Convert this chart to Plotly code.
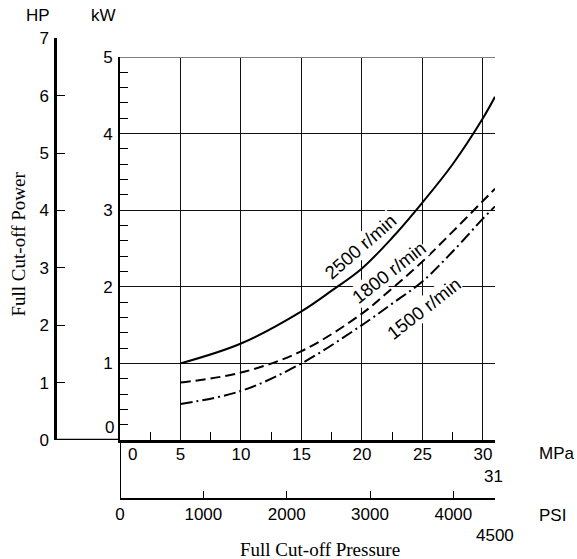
import plotly.graph_objects as go

# ---------------- data ----------------
mpa_2500 = [5, 10, 15, 17.5, 20, 22.5, 25, 27.5, 30, 31]
kw_2500 = [1.00, 1.26, 1.68, 1.95, 2.24, 2.64, 3.10, 3.60, 4.20, 4.48]

mpa_1800 = [5, 10, 15, 20, 22.5, 25, 27.5, 30, 31]
kw_1800 = [0.75, 0.88, 1.16, 1.65, 1.98, 2.33, 2.72, 3.12, 3.28]

mpa_1500 = [5, 10, 15, 20, 22.5, 25, 27.5, 30, 31]
kw_1500 = [0.47, 0.64, 1.00, 1.50, 1.78, 2.07, 2.46, 2.89, 3.05]

mpa_grid = [5, 10, 15, 20, 25, 30, 31]
mpa_ticktext = ["5", "10", "15", "20", "25", "30", ""]
mpa_minor = [2.5, 7.5, 12.5, 17.5, 22.5, 27.5]
kw_ticks = [1, 2, 3, 4, 5]
kw_minor = [v / 10 for v in range(2, 50, 2) if v % 10 != 0]
hp_ticks = [0, 1, 2, 3, 4, 5, 6, 7]
psi_ticks = [0, 1000, 2000, 3000, 4000, 4500]
psi_ticktext = ["0", "1000", "2000", "3000", "4000", ""]

curve_labels = ["2500 r/min", "1800 r/min", "1500 r/min"]
label_mpa = [19.9, 22.2, 25.1]
label_kw = [2.52, 2.19, 1.72]
label_angle = [-41, -38, -38]

# ---------------- layout geometry (window pixels) ----------------
W, H = 577, 559
px_x0, px_x1 = 120, 495              # MPa 0 .. 31
px_kw0, px_kw5 = 440, 57             # kW 0 .. 5
px_hp7 = 38.2
px_hpaxis = 57
px_psi = 499

def fx(p):
    return p / W

def fy(p):
    return (H - p) / H

SANS = "Liberation Sans, Arial, sans-serif"
SERIF = "Liberation Serif, Times New Roman, serif"
FS = 17
GRID = "#111111"

fig = go.Figure()

fig.add_trace(go.Scatter(x=mpa_2500, y=kw_2500, mode="lines",
                         line=dict(color="black", width=2, shape="spline"),
                         hoverinfo="skip"))
fig.add_trace(go.Scatter(x=mpa_1800, y=kw_1800, mode="lines",
                         line=dict(color="black", width=2, shape="spline", dash="10px,5px"),
                         hoverinfo="skip"))
fig.add_trace(go.Scatter(x=mpa_1500, y=kw_1500, mode="lines",
                         line=dict(color="black", width=2, shape="spline", dash="12px,4px,2px,4px"),
                         hoverinfo="skip"))
# carriers for the secondary axes
fig.add_trace(go.Scatter(x=[None], y=[None], xaxis="x2", yaxis="y", hoverinfo="skip"))
fig.add_trace(go.Scatter(x=[None], y=[None], xaxis="x3", yaxis="y2", hoverinfo="skip"))

fig.update_layout(
    template="none",
    width=W, height=H,
    margin=dict(l=0, r=0, t=0, b=0, autoexpand=False),
    paper_bgcolor="white", plot_bgcolor="white",
    showlegend=False,
    font=dict(family=SANS, size=FS, color="black"),
    xaxis=dict(
        domain=[fx(px_x0), fx(px_x1)], range=[0, 31], anchor="y", automargin=False,
        showline=True, linecolor="black", linewidth=2.5,
        tickmode="array", tickvals=mpa_grid, ticktext=mpa_ticktext,
        ticks="", showgrid=True, gridcolor=GRID, gridwidth=1, zeroline=False,
        minor=dict(tickmode="array", tickvals=mpa_minor, ticks="inside",
                   ticklen=8, tickwidth=1.2, tickcolor="black", showgrid=False),
        tickfont=dict(family=SANS, size=FS), ticklabelstandoff=-3,
    ),
    yaxis=dict(
        domain=[fy(px_kw0), fy(px_kw5)], range=[0, 5], anchor="x", automargin=False,
        showline=True, linecolor="black", linewidth=2,
        tickmode="array", tickvals=kw_ticks,
        ticks="", showgrid=True, gridcolor=GRID, gridwidth=1, zeroline=False,
        minor=dict(tickmode="array", tickvals=kw_minor, ticks="inside",
                   ticklen=8, tickwidth=1.2, tickcolor="black", showgrid=False),
        tickfont=dict(family=SANS, size=FS), ticklabelstandoff=2,
    ),
    xaxis2=dict(
        overlaying="x", anchor="free", position=fy(px_psi), side="bottom", automargin=False,
        range=[0, 4500], showline=True, linecolor="black", linewidth=2,
        tickmode="array", tickvals=psi_ticks, ticktext=psi_ticktext,
        ticks="inside", ticklen=7, tickwidth=1.2, tickcolor="black",
        showgrid=False, zeroline=False,
        tickfont=dict(family=SANS, size=FS), ticklabelstandoff=0,
    ),
    xaxis3=dict(domain=[fx(px_hpaxis), fx(px_x0)], range=[0, 1], visible=False,
                automargin=False),
    yaxis2=dict(
        domain=[fy(px_kw0), fy(px_hp7)], range=[0, 7], anchor="x3", side="left",
        automargin=False,
        showline=True, linecolor="black", linewidth=2.5,
        tickmode="array", tickvals=hp_ticks,
        ticks="inside", ticklen=8, tickwidth=1.2, tickcolor="black",
        showgrid=False, zeroline=False,
        tickfont=dict(family=SANS, size=FS), ticklabelstandoff=2,
    ),
)

# axis extensions and top border
fig.add_shape(type="line", xref="paper", yref="y", x0=fx(px_hpaxis), x1=fx(px_x0), y0=0, y1=0,
              line=dict(color="black", width=2.5))
fig.add_shape(type="line", xref="x", yref="paper", x0=0, x1=0, y0=fy(px_psi), y1=fy(px_kw0),
              line=dict(color="black", width=2))
fig.add_shape(type="line", xref="x", yref="y", x0=0, x1=31, y0=5, y1=5,
              line=dict(color="#808080", width=2))

# curve labels
for t, xm, yk, a in zip(curve_labels, label_mpa, label_kw, label_angle):
    fig.add_annotation(x=xm, y=yk, xref="x", yref="y", text=t, showarrow=False,
                       textangle=a, bgcolor="white", borderpad=0,
                       font=dict(family=SANS, size=18.5))

# special tick labels and unit labels
fig.add_annotation(x=0, y=0, xref="x", yref="y", text="0", showarrow=False,
                   xanchor="left", yanchor="top", xshift=6, yshift=-3, font=dict(size=FS))
fig.add_annotation(x=31, y=0, xref="x", yref="y", text="31", showarrow=False,
                   xanchor="center", yanchor="top", xshift=-2, yshift=-25, font=dict(size=FS))
fig.add_annotation(x=0, y=0, xref="x", yref="y", text="0", showarrow=False,
                   xanchor="right", yanchor="bottom", xshift=-4, yshift=1, font=dict(size=FS))
fig.add_annotation(x=4500, y=fy(px_psi), xref="x2", yref="paper", text="4500", showarrow=False,
                   xanchor="center", yanchor="top", yshift=-25, font=dict(size=FS))
fig.add_annotation(x=fx(537), y=fy(453), xref="paper", yref="paper", text="MPa",
                   showarrow=False, xanchor="left", yanchor="middle", font=dict(size=FS))
fig.add_annotation(x=fx(537), y=fy(515), xref="paper", yref="paper", text="PSI",
                   showarrow=False, xanchor="left", yanchor="middle", font=dict(size=FS))
fig.add_annotation(x=fx(37.5), y=fy(16), xref="paper", yref="paper", text="HP",
                   showarrow=False, xanchor="center", yanchor="middle", font=dict(size=FS))
fig.add_annotation(x=fx(103), y=fy(16), xref="paper", yref="paper", text="kW",
                   showarrow=False, xanchor="center", yanchor="middle", font=dict(size=FS))
fig.add_annotation(x=fx(320), y=fy(549), xref="paper", yref="paper", text="Full Cut-off Pressure",
                   showarrow=False, xanchor="center", yanchor="middle",
                   font=dict(family=SERIF, size=19))
fig.add_annotation(x=fx(18), y=fy(244.5), xref="paper", yref="paper", text="Full Cut-off Power",
                   showarrow=False, textangle=-90, xanchor="center", yanchor="middle",
                   font=dict(family=SERIF, size=19))

fig.write_html("out.html",
               config={"displayModeBar": False},
               post_script="document.body.style.margin='0';document.body.style.overflow='hidden';")
